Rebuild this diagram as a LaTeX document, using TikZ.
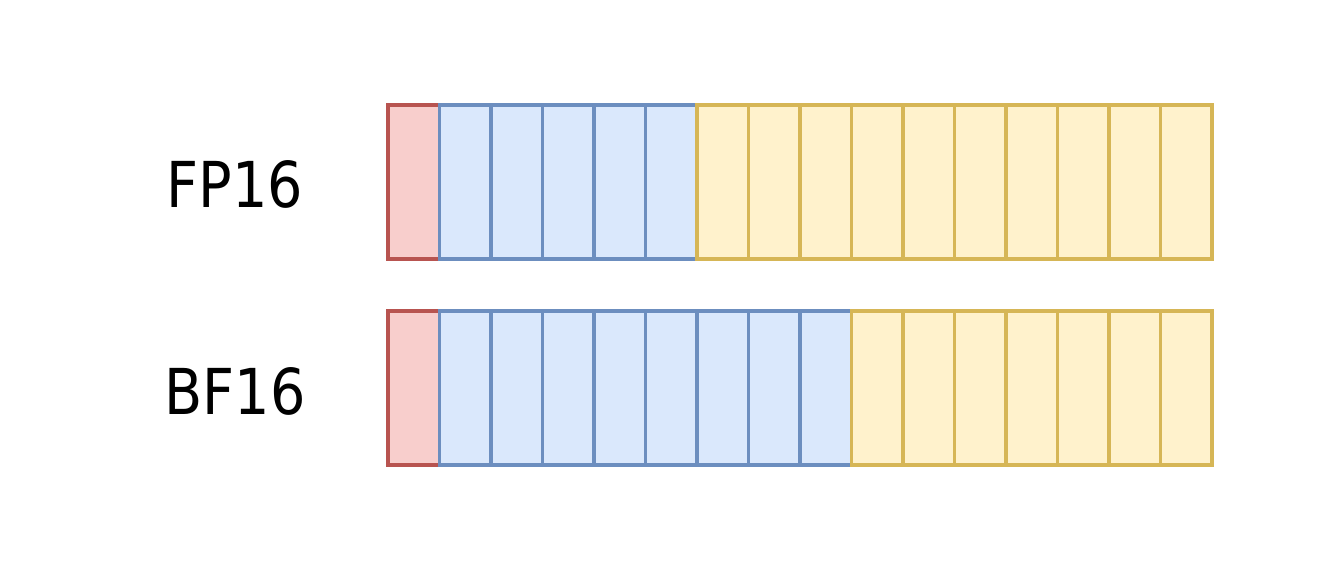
\documentclass[tikz,border=0pt]{standalone}
\usepackage{fontspec}
\setmainfont[FakeStretch=0.88]{DejaVu Sans}
\usetikzlibrary{positioning}
\definecolor{SignClr}{HTML}{B85450}
\definecolor{SignFill}{HTML}{F8CECC}
\definecolor{ExpClr}{HTML}{6C8EBF}
\definecolor{ExpFill}{HTML}{DAE8FC}
\definecolor{MantClr}{HTML}{D6B656}
\definecolor{MantFill}{HTML}{FFF2CC}
\tikzset{bitcell/.style={draw,line width=1.1pt,minimum width=0.515cm,minimum height=1.54cm,inner sep=0pt,outer sep=0pt},
  fmtlabel/.style={font=\fontsize{18}{20}\selectfont,inner sep=0pt}}
\begin{document}
\begin{tikzpicture}[x=0.01cm,y=-0.01cm]
\useasboundingbox (0,0) rectangle (1320,574);

\node[fmtlabel] (fplabel) at (235,184) {FP16};
\node[fmtlabel] (bflabel) at (235,391) {BF16};

% FP16: 1 sign, 5 exponent, 10 mantissa
\foreach \i in {0,...,15}{
  \ifnum\i=0 \def\clr{Sign}\else\ifnum\i<6 \def\clr{Exp}\else\def\clr{Mant}\fi\fi
  \node[bitcell,draw=\clr Clr,fill=\clr Fill] (fp\i) at (413.75+51.5*\i,182) {};
}

% BF16: 1 sign, 8 exponent, 7 mantissa
\foreach \i in {0,...,15}{
  \ifnum\i=0 \def\clr{Sign}\else\ifnum\i<9 \def\clr{Exp}\else\def\clr{Mant}\fi\fi
  \node[bitcell,draw=\clr Clr,fill=\clr Fill] (bf\i) at (413.75+51.5*\i,388) {};
}

\end{tikzpicture}
\end{document}
